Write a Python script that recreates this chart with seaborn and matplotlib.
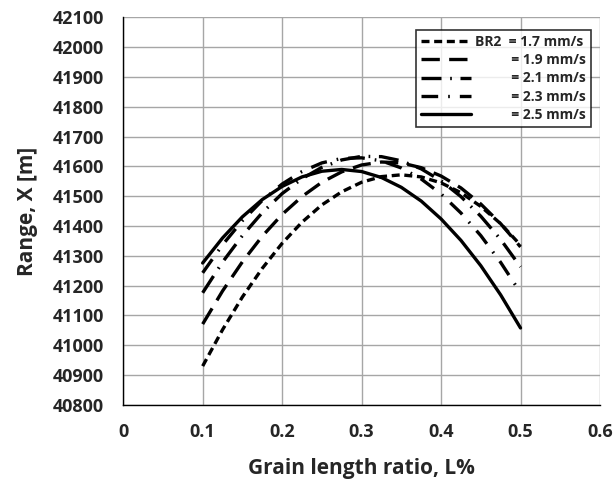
import matplotlib
matplotlib.use("Agg")
import matplotlib.pyplot as plt
import seaborn as sns
import pandas as pd

# ---- data ----
x_vals = [0.100, 0.125, 0.150, 0.175, 0.200, 0.225, 0.250, 0.275, 0.300,
          0.325, 0.350, 0.375, 0.400, 0.425, 0.450, 0.475, 0.500]
br_17 = [40930, 41052, 41162, 41258, 41342, 41413, 41471, 41515, 41547,
         41566, 41572, 41565, 41545, 41512, 41466, 41408, 41336]
br_19 = [41071, 41182, 41280, 41366, 41439, 41499, 41547, 41582, 41605,
         41615, 41612, 41596, 41568, 41528, 41474, 41408, 41330]
br_21 = [41176, 41279, 41368, 41445, 41509, 41559, 41597, 41622, 41634,
         41633, 41619, 41592, 41552, 41499, 41433, 41355, 41263]
br_23 = [41243, 41337, 41418, 41486, 41541, 41583, 41612, 41627, 41629,
         41619, 41595, 41558, 41508, 41444, 41368, 41278, 41176]
br_25 = [41276, 41360, 41431, 41489, 41533, 41565, 41584, 41590, 41583,
         41563, 41530, 41484, 41424, 41352, 41267, 41169, 41058]
series_labels = ["BR2  = 1.7 mm/s", "          = 1.9 mm/s", "          = 2.1 mm/s",
                 "          = 2.3 mm/s", "          = 2.5 mm/s"]
x_ticks = [0, 0.1, 0.2, 0.3, 0.4, 0.5, 0.6]
x_tick_labels = ["0", "0.1", "0.2", "0.3", "0.4", "0.5", "0.6"]
y_ticks = list(range(40800, 42101, 100))

series = [br_17, br_19, br_21, br_23, br_25]
rows = []
for lab, ys in zip(series_labels, series):
    for xv, yv in zip(x_vals, ys):
        rows.append({"x": xv, "y": yv, "rate": lab})
df = pd.DataFrame(rows)

sns.set_style("white")
plt.rcParams['font.family'] = ['Open Sans', 'DejaVu Sans']
plt.rcParams['font.weight'] = 'bold'
plt.rcParams['axes.labelweight'] = 'bold'

fig = plt.figure(figsize=(6.16, 4.86), dpi=100)
ax = fig.add_axes([0.20, 0.167, 0.774, 0.797])

dashes = {
    series_labels[0]: (2.4, 1.4),
    series_labels[1]: (5.5, 2.8),
    series_labels[2]: (6.0, 2.6, 0.5, 2.6),
    series_labels[3]: (5.0, 3.0, 0.5, 3.0),
    series_labels[4]: "",
}
palette = {lab: "black" for lab in series_labels}

sns.lineplot(data=df, x="x", y="y", hue="rate", style="rate",
             dashes=dashes, palette=palette, linewidth=2.4, ax=ax,
             legend="brief")

ax.set_xlim(0, 0.6)
ax.set_ylim(40800, 42100)
ax.set_xticks(x_ticks)
ax.set_xticklabels(x_tick_labels)
ax.set_yticks(y_ticks)
ax.grid(True, color="#a6a6a6", linewidth=1.0)
for s in ["top", "right"]:
    ax.spines[s].set_visible(False)
for s in ["left", "bottom"]:
    ax.spines[s].set_color("black")
    ax.spines[s].set_linewidth(1.0)
ax.tick_params(axis="both", direction="out", length=5, width=1, color="black",
               labelsize=13)
ax.tick_params(axis="x", pad=8)
ax.tick_params(axis="y", pad=9)
for t in ax.get_xticklabels() + ax.get_yticklabels():
    t.set_fontweight("bold")

ax.set_xlabel("Grain length ratio, L%", fontsize=15, fontweight="bold", labelpad=12)
ax.set_ylabel("Range, X [m]", fontsize=15, fontweight="bold", labelpad=10)

leg = ax.legend(loc="upper right", bbox_to_anchor=(0.995, 0.985), frameon=True,
                fancybox=False, edgecolor="black", fontsize=10,
                handlelength=3.6, labelspacing=0.3, borderpad=0.35,
                handletextpad=0.3, title=None)
leg.get_frame().set_linewidth(1.2)
for t in leg.get_texts():
    t.set_fontweight("bold")

fig.savefig("out.png", dpi=100, facecolor="white")
